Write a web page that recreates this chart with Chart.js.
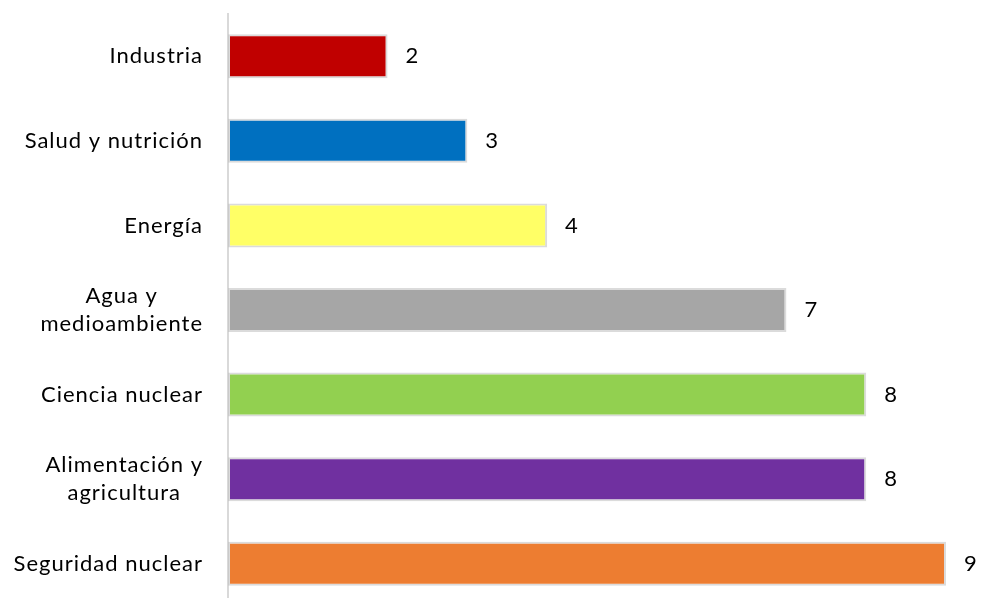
<!DOCTYPE html>
<html>
<head>
<meta charset="utf-8">
<script src="https://cdn.jsdelivr.net/npm/chart.js@4/dist/chart.umd.min.js"></script>
<style>
  html, body { margin: 0; padding: 0; background: #fff; overflow: hidden; }
  #wrap { width: 981px; height: 606px; }
</style>
</head>
<body>
<div id="wrap"><canvas id="barChart" width="981" height="606"></canvas></div>
<script>
// ── chart data --------------------------------------------------------------
const categories = [
  ['Industria'],
  ['Salud y nutrición'],
  ['Energía'],
  ['Agua y', 'medioambiente'],
  ['Ciencia nuclear'],
  ['Alimentación y', 'agricultura'],
  ['Seguridad nuclear']
];
const values = [2, 3, 4, 7, 8, 8, 9];
const barColors = ['#c00000', '#0070c0', '#ffff66', '#a6a6a6', '#92d050', '#7030a0', '#ed7d31'];

const FONT = '22px Lato';

// category names: each block right aligned, lines centred inside the block
const categoryLabels = {
  id: 'categoryLabels',
  afterDraw(chart) {
    const { ctx, scales: { y } } = chart;
    const right = y.right - 25;
    const lineH = 28;
    ctx.save();
    ctx.font = FONT;
    ctx.letterSpacing = '1px';
    ctx.fillStyle = '#000';
    ctx.textBaseline = 'middle';
    ctx.textAlign = 'center';
    categories.forEach((lines, i) => {
      const yc = y.getPixelForValue(i);
      const w = Math.max(...lines.map(l => ctx.measureText(l).width));
      const cx = right - w / 2;
      const y0 = yc - (lines.length - 1) * lineH / 2;
      lines.forEach((l, k) => ctx.fillText(l, cx, y0 + k * lineH));
    });
    ctx.restore();
  }
};

// value at the end of every bar
const valueLabels = {
  id: 'valueLabels',
  afterDatasetsDraw(chart) {
    const { ctx } = chart;
    const meta = chart.getDatasetMeta(0);
    ctx.save();
    ctx.font = FONT;
    ctx.fillStyle = '#000';
    ctx.textBaseline = 'middle';
    ctx.textAlign = 'left';
    meta.data.forEach((bar, i) => {
      ctx.fillText(String(values[i]), bar.x + 18, bar.y);
    });
    ctx.restore();
  }
};

function drawBarChart() {
  const ctx = document.getElementById('barChart').getContext('2d');

  new Chart(ctx, {
    type: 'bar',
    data: {
      labels: categories.map(c => c.join(' ')),
      datasets: [{
        data: values,
        backgroundColor: barColors,
        borderColor: 'rgba(190,190,190,0.55)',
        borderWidth: 2,
        borderSkipped: false,
        barPercentage: 0.52,
        categoryPercentage: 1
      }]
    },
    options: {
      indexAxis: 'y',
      responsive: false,
      animation: false,
      layout: { padding: { left: 220, right: 35, top: 14, bottom: 0 } },
      plugins: {
        legend: { display: false },
        tooltip: { enabled: false }
      },
      scales: {
        x: {
          min: 0,
          max: 9,
          display: false
        },
        y: {
          grid: { display: false },
          border: { display: true, color: '#d9d9d9', width: 2 },
          ticks: { display: false }
        }
      }
    },
    plugins: [categoryLabels, valueLabels]
  });
}

window.addEventListener('DOMContentLoaded', drawBarChart);
</script>
</body>
</html>
